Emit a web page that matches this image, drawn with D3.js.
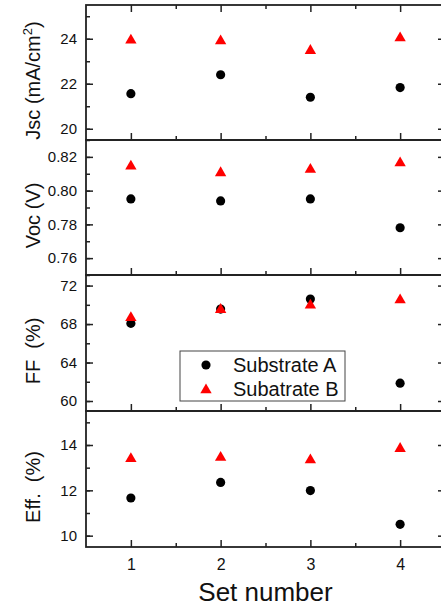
<!DOCTYPE html>
<html>
<head>
<meta charset="utf-8">
<script src="https://cdn.jsdelivr.net/npm/d3@7"></script>
<style>
  body { margin: 0; background: #fff; }
  svg { display: block; font-family: Arial, "Liberation Sans", sans-serif; }
  .tick line { stroke: #222; stroke-width: 1.5; }
</style>
</head>
<body>
<div id="chart"></div>
<script>
'use strict';

// data
var sets = [1, 2, 3, 4];
var seriesNames = ['Substrate A', 'Subatrate B'];

var jscA = [21.56, 22.40, 21.40, 21.83];
var jscB = [23.93, 23.90, 23.47, 24.03];
var vocA = [0.7951, 0.7939, 0.7951, 0.7780];
var vocB = [0.8144, 0.8105, 0.8125, 0.8164];
var ffA = [68.07, 69.56, 70.60, 61.85];
var ffB = [68.66, 69.50, 69.95, 70.50];
var effA = [11.66, 12.35, 11.99, 10.50];
var effB = [13.39, 13.45, 13.34, 13.84];

var width = 441,
    height = 609,
    left = 86,
    right = 445,
    bounds = [5, 140, 275, 411, 547],
    major_len = 7,
    minor_len = 4;

var panels = [
    { label: 'Jsc (mA/cm', sup: '2', a: jscA, b: jscB, domain: [19.5, 25.5], step: 2, minor: 1, fmt: d3.format('d') },
    { label: 'Voc (V)', a: vocA, b: vocB, domain: [0.75, 0.83], step: 0.02, minor: 0.01, fmt: d3.format('.2f') },
    { label: 'FF  (%)', a: ffA, b: ffB, domain: [58.96, 73.1], step: 4, minor: 2, fmt: d3.format('d') },
    { label: 'Eff.  (%)', a: effA, b: effB, domain: [9.5, 15.5], step: 2, minor: 1, fmt: d3.format('d') }
];

var stepTicks = function(domain, step) {
    var lo = Math.ceil(domain[0] / step - 1e-9),
        hi = Math.floor(domain[1] / step + 1e-9);
    return d3.range(lo, hi + 1).map(function(i) { return +(i * step).toFixed(6); });
};

var svg = d3.select('#chart').append('svg')
    .attr('width', width)
    .attr('height', height);

var x = d3.scaleLinear().domain([0.5, 4.5]).range([left, right]);
var xMinor = [1.5, 2.5, 3.5];

var circle = d3.symbol().type(d3.symbolCircle).size(66);
var triangle = d3.symbol().type(d3.symbolTriangle).size(56);

panels.forEach(function(p, i) {
    var top = bounds[i],
        bottom = bounds[i + 1],
        last = i === panels.length - 1;

    var y = d3.scaleLinear().domain(p.domain).range([bottom, top]);
    var g = svg.append('g');

    // y axis, left with labels and right without
    g.append('g')
        .attr('transform', 'translate(' + left + ',0)')
        .call(d3.axisLeft(y).tickValues(stepTicks(p.domain, p.step))
            .tickSize(-major_len).tickPadding(9).tickFormat(p.fmt))
        .call(function(s) {
            s.select('.domain').remove();
            s.selectAll('text').attr('font-size', 15).attr('fill', '#111').attr('font-family', null);
        });
    g.append('g')
        .attr('transform', 'translate(' + left + ',0)')
        .call(d3.axisLeft(y).tickValues(stepTicks(p.domain, p.minor)).tickSize(-minor_len).tickFormat(''))
        .call(function(s) { s.select('.domain').remove(); });
    g.append('g')
        .attr('transform', 'translate(' + right + ',0)')
        .call(d3.axisRight(y).tickValues(stepTicks(p.domain, p.step)).tickSize(-major_len).tickFormat(''))
        .call(function(s) { s.select('.domain').remove(); });
    g.append('g')
        .attr('transform', 'translate(' + right + ',0)')
        .call(d3.axisRight(y).tickValues(stepTicks(p.domain, p.minor)).tickSize(-minor_len).tickFormat(''))
        .call(function(s) { s.select('.domain').remove(); });

    // x ticks on the bottom of every panel, labels only on the last one
    g.append('g')
        .attr('transform', 'translate(0,' + bottom + ')')
        .call(d3.axisBottom(x).tickValues(sets).tickSize(-major_len).tickPadding(12)
            .tickFormat(last ? d3.format('d') : ''))
        .call(function(s) {
            s.select('.domain').remove();
            s.selectAll('text').attr('font-size', 16).attr('fill', '#111').attr('font-family', null);
        });
    g.append('g')
        .attr('transform', 'translate(0,' + bottom + ')')
        .call(d3.axisBottom(x).tickValues(xMinor).tickSize(-minor_len).tickFormat(''))
        .call(function(s) { s.select('.domain').remove(); });

    if (i === 0) {
        g.append('g')
            .attr('transform', 'translate(0,' + top + ')')
            .call(d3.axisTop(x).tickValues(sets).tickSize(-major_len).tickFormat(''))
            .call(function(s) { s.select('.domain').remove(); });
        g.append('g')
            .attr('transform', 'translate(0,' + top + ')')
            .call(d3.axisTop(x).tickValues(xMinor).tickSize(-minor_len).tickFormat(''))
            .call(function(s) { s.select('.domain').remove(); });
    }

    // frame
    g.append('rect')
        .attr('x', left).attr('y', top)
        .attr('width', right - left).attr('height', bottom - top)
        .attr('fill', 'none').attr('stroke', '#222').attr('stroke-width', 1.8);

    // y label
    var lab = g.append('text')
        .attr('transform', 'translate(40,' + ((top + bottom) / 2 + 8) + ') rotate(-90)')
        .attr('text-anchor', 'middle')
        .attr('font-size', 20)
        .attr('fill', '#111')
        .style('white-space', 'pre');
    lab.append('tspan').text(p.label);
    if (p.sup) {
        lab.append('tspan').attr('font-size', 13).attr('dy', -8).text(p.sup);
        lab.append('tspan').attr('dy', 8).text(')');
    }

    // points
    g.append('g').selectAll('path').data(p.a).enter().append('path')
        .attr('d', circle)
        .attr('fill', '#000')
        .attr('transform', function(d, k) { return 'translate(' + x(sets[k]) + ',' + y(d) + ')'; });
    g.append('g').selectAll('path').data(p.b).enter().append('path')
        .attr('d', triangle)
        .attr('fill', '#ff0000')
        .attr('transform', function(d, k) { return 'translate(' + x(sets[k]) + ',' + y(d) + ')'; });
});

// x label
svg.append('text')
    .attr('x', (left + right) / 2)
    .attr('y', 601)
    .attr('text-anchor', 'middle')
    .attr('font-size', 26)
    .attr('fill', '#111')
    .text('Set number');

// legend
var legend = svg.append('g').attr('transform', 'translate(180,351)');
legend.append('rect')
    .attr('width', 165).attr('height', 50)
    .attr('fill', '#fff').attr('stroke', '#444').attr('stroke-width', 1);
seriesNames.forEach(function(name, k) {
    var row = legend.append('g').attr('transform', 'translate(0,' + (14 + k * 24) + ')');
    row.append('path')
        .attr('d', k === 0 ? circle : triangle)
        .attr('fill', k === 0 ? '#000' : '#ff0000')
        .attr('transform', 'translate(26,' + (k === 0 ? 0 : 1) + ')');
    row.append('text')
        .attr('x', 53).attr('y', 7)
        .attr('font-size', 20)
        .attr('fill', '#111')
        .text(name);
});
</script>
</body>
</html>
